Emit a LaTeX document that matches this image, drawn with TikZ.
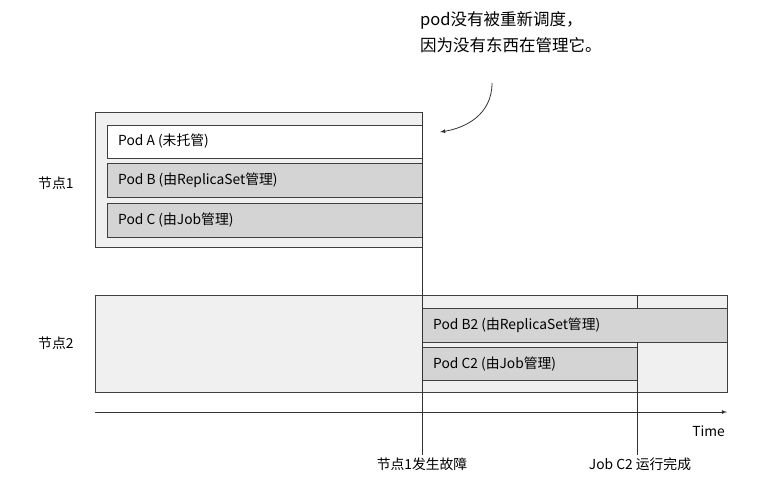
\documentclass[tikz,border=0pt]{standalone}
\usepackage{fontspec}
\setmainfont{Noto Sans CJK SC}
\begin{document}
\begin{tikzpicture}[x=1pt,y=-1pt,
  nodebox/.style={draw=black!75,fill=black!6,line width=0.8pt},
  podbox/.style={draw=black!75,fill=black!17,line width=0.8pt},
  lbl/.style={font=\fontsize{13.8}{16}\selectfont,anchor=west,inner sep=0},
  vline/.style={draw=black!80,line width=0.8pt}]
\useasboundingbox (0,0) rectangle (767,486);
\node[nodebox,minimum width=327pt,minimum height=135pt,anchor=north west,inner sep=0] (n1) at (95,112) {};
\node[nodebox,minimum width=632pt,minimum height=97pt,anchor=north west,inner sep=0] (n2) at (95,295) {};
\node[draw=black!75,fill=white,line width=0.8pt,minimum width=315pt,minimum height=33pt,anchor=north west,inner sep=0] (pa) at (107,125) {};
\node[lbl] at (118,141.5) {Pod A (未托管)};
\node[podbox,minimum width=315pt,minimum height=34pt,anchor=north west,inner sep=0] (pb) at (107,163) {};
\node[lbl] at (118,180) {Pod B (由ReplicaSet管理)};
\node[podbox,minimum width=315pt,minimum height=34pt,anchor=north west,inner sep=0] (pc) at (107,203) {};
\node[lbl] at (118,220) {Pod C (由Job管理)};
\node[podbox,minimum width=305pt,minimum height=34pt,anchor=north west,inner sep=0] (pb2) at (422,308) {};
\node[lbl] at (433,325) {Pod B2 (由ReplicaSet管理)};
\node[podbox,minimum width=215pt,minimum height=33pt,anchor=north west,inner sep=0] (pc2) at (422,347) {};
\node[lbl] at (433,364) {Pod C2 (由Job管理)};
\node[lbl] (l1) at (38,183) {节点1};
\node[lbl] (l2) at (38,343) {节点2};
\coordinate (t0) at (95,412); \coordinate (t1) at (727,412);
\draw[vline,-latex] (t0) -- (t1);
\node[lbl,anchor=east] (time) at (725,431) {Time};
\coordinate (f0) at (422,112); \coordinate (f1) at (422,455);
\draw[vline] (f0) -- (f1);
\coordinate (j0) at (637,342); \coordinate (j1) at (637,455);
\draw[vline] (j0) -- (j1);
\coordinate (k0) at (637,295); \coordinate (k1) at (637,308);
\draw[vline] (k0) -- (k1);
\node[lbl,anchor=center] (fl) at (422,464) {节点1发生故障};
\node[lbl,anchor=center] (jl) at (640,464) {Job C2 运行完成};
\node[font=\fontsize{16.5}{26}\selectfont,align=left,anchor=north west,inner sep=0] (ann) at (420,11) {pod没有被重新调度，\\因为没有东西在管理它。};
\coordinate (a0) at (492,83); \coordinate (a1) at (440,132);
\draw[vline,-latex] (a0) .. controls (492,115) and (465,128) .. (a1);
\end{tikzpicture}
\end{document}
